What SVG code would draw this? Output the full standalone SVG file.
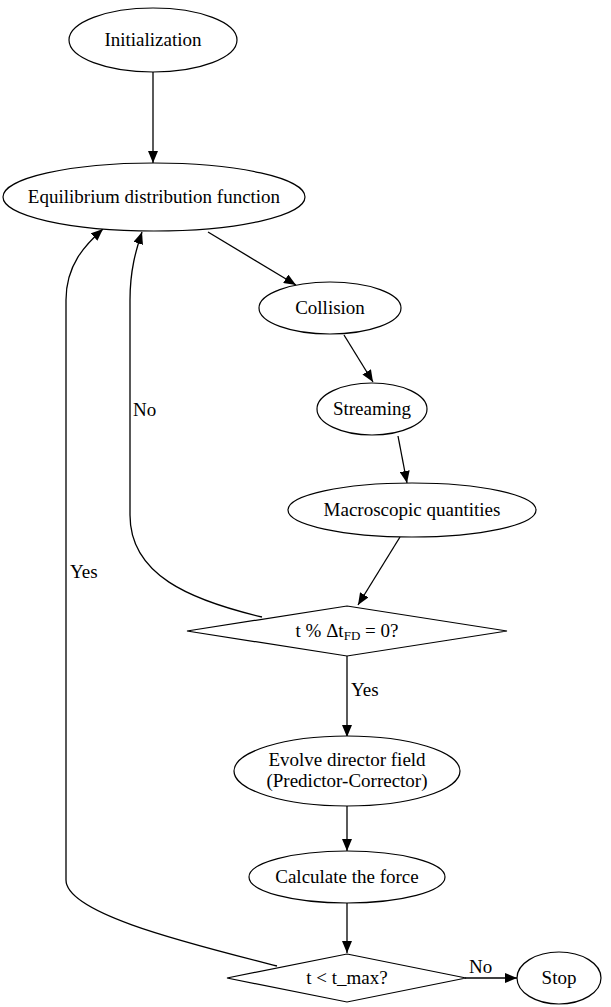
<svg xmlns="http://www.w3.org/2000/svg" width="611" height="1007" viewBox="0 0 611 1007" font-family="'Liberation Serif', 'Times New Roman', Times, serif">
<style>
.n{fill:#fff;stroke:#000;stroke-width:1.2}
text{font-family:'Liberation Serif','Times New Roman',Times,serif;font-size:19px;fill:#000}
.t{text-anchor:middle}
.e{fill:none;stroke:#000;stroke-width:1.3}
</style>
<defs>
<marker id="a" markerUnits="userSpaceOnUse" markerWidth="13" markerHeight="10" refX="12" refY="5" orient="auto">
<path d="M0,0 L12,5 L0,10 z" fill="#000"/>
</marker>
</defs>
<rect width="611" height="1007" fill="#fff"/>
<g id="edges">
<path class="e" d="M153,72 L153,163" marker-end="url(#a)"/>
<path class="e" d="M208,232 L296,285" marker-end="url(#a)"/>
<path class="e" d="M344,335 L373,382" marker-end="url(#a)"/>
<path class="e" d="M398,436 L407,483" marker-end="url(#a)"/>
<path class="e" d="M400,537 L358,605" marker-end="url(#a)"/>
<path class="e" d="M262,617 C190,600 130,575 130,515 L130,300 C130,270 136,250 142,232" marker-end="url(#a)"/>
<text x="133" y="416">No</text>
<path class="e" d="M347,656 L347,737" marker-end="url(#a)"/>
<text x="351" y="696">Yes</text>
<path class="e" d="M347,806 L347,851" marker-end="url(#a)"/>
<path class="e" d="M347,903 L347,953" marker-end="url(#a)"/>
<path class="e" d="M277,966 C200,946 66,915 66,880 L66,300 C66,265 85,245 103,229" marker-end="url(#a)"/>
<text x="70" y="578">Yes</text>
<path class="e" d="M465,978 L517,978" marker-end="url(#a)"/>
<text x="469" y="973">No</text>
</g>
<g id="init"><ellipse class="n" cx="153" cy="40" rx="84" ry="32"/><text class="t" x="153" y="46">Initialization</text></g>
<g id="equil"><ellipse class="n" cx="154" cy="197" rx="151" ry="34"/><text class="t" x="154" y="203">Equilibrium distribution function</text></g>
<g id="collision"><ellipse class="n" cx="330" cy="308" rx="71" ry="26"/><text class="t" x="330" y="314">Collision</text></g>
<g id="streaming"><ellipse class="n" cx="372" cy="409" rx="55" ry="26"/><text class="t" x="372" y="415">Streaming</text></g>
<g id="macro"><ellipse class="n" cx="412" cy="510" rx="124" ry="27"/><text class="t" x="412" y="516">Macroscopic quantities</text></g>
<g id="check"><polygon class="n" points="347,606 507,631 347,656 187,631"/><text class="t" x="347" y="637">t % Δt<tspan font-size="13" dy="3">FD</tspan><tspan dy="-3"> = 0?</tspan></text></g>
<g id="evolve"><ellipse class="n" cx="347" cy="771" rx="113" ry="35"/><text class="t" x="347" y="766">Evolve director field</text><text class="t" x="347" y="787">(Predictor-Corrector)</text></g>
<g id="force"><ellipse class="n" cx="347" cy="877" rx="98" ry="26"/><text class="t" x="347" y="883">Calculate the force</text></g>
<g id="tmax"><polygon class="n" points="347,954 466,978 347,1002 227,978"/><text class="t" x="347" y="984">t &lt; t_max?</text></g>
<g id="stop"><ellipse class="n" cx="559" cy="978" rx="42" ry="26"/><text class="t" x="559" y="984">Stop</text></g>
</svg>
